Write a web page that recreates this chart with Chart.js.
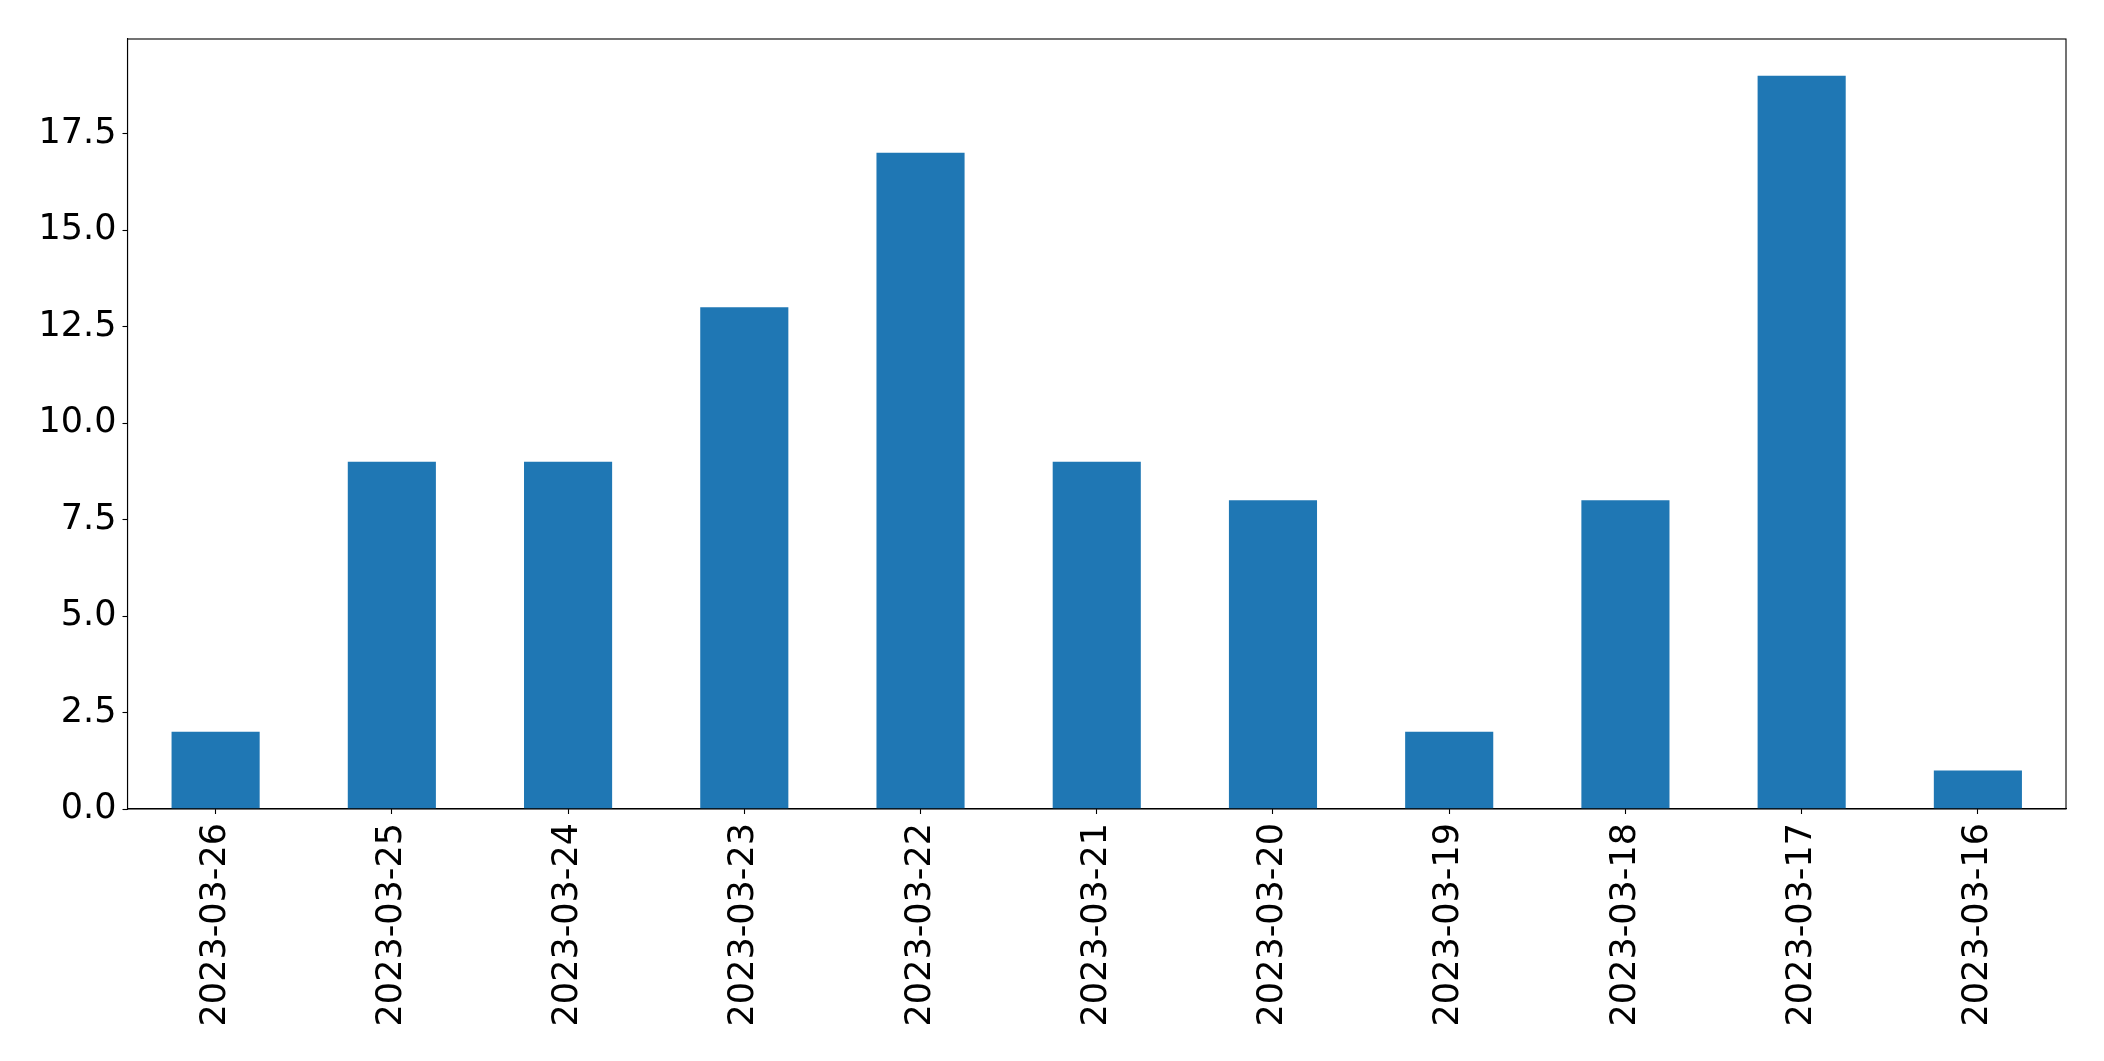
<!DOCTYPE html>
<html>
<head>
<meta charset="utf-8">
<script src="https://cdn.jsdelivr.net/npm/chart.js@4"></script>
<style>
  html, body { margin: 0; padding: 0; background: #fff; }
  canvas { display: block; }
</style>
</head>
<body>
<canvas id="grafico" width="2104" height="1061"></canvas>
<script>
  // dados
  const datas = [
    "2023-03-26", "2023-03-25", "2023-03-24", "2023-03-23", "2023-03-22",
    "2023-03-21", "2023-03-20", "2023-03-19", "2023-03-18", "2023-03-17",
    "2023-03-16",
  ];
  const contagens = [2, 9, 9, 13, 17, 9, 8, 2, 8, 19, 1];
  const ticksY = [0, 2.5, 5, 7.5, 10, 12.5, 15, 17.5];
  const maxY = 19.95;

  const fonte = { family: "'DejaVu Sans'", size: 35 };

  // moldura completa em volta da área do gráfico
  const moldura = {
    id: "moldura",
    afterDraw(chart) {
      const a = chart.chartArea;
      const c = chart.ctx;
      c.save();
      c.strokeStyle = "#000";
      c.lineWidth = 1.1;
      c.strokeRect(a.left, a.top, a.right - a.left, a.bottom - a.top);
      c.restore();
    },
  };

  const ctx = document.getElementById("grafico");

  var grafico = new Chart(ctx, {
    type: "bar",
    data: {
      labels: datas,
      datasets: [
        {
          data: contagens,
          backgroundColor: "#1f77b4",
          barPercentage: 0.5,
          categoryPercentage: 1.0,
        },
      ],
    },
    options: {
      responsive: false,
      animation: false,
      layout: {
        padding: { left: 0, top: 39, right: 38, bottom: 0 },
      },
      plugins: {
        legend: { display: false },
        tooltip: { enabled: false },
      },
      scales: {
        x: {
          offset: true,
          grid: {
            display: true,
            offset: false,
            drawOnChartArea: false,
            drawTicks: true,
            tickLength: 5,
            tickColor: "#000",
            tickWidth: 1.1,
          },
          border: { color: "#000", width: 1.1 },
          ticks: {
            color: "#000",
            font: fonte,
            minRotation: 90,
            maxRotation: 90,
            padding: 9,
            autoSkip: false,
          },
          afterFit(scale) {
            scale.height = 252;
          },
        },
        y: {
          min: 0,
          max: maxY,
          grid: {
            display: true,
            drawOnChartArea: false,
            drawTicks: true,
            tickLength: 5,
            tickColor: "#000",
            tickWidth: 1.1,
          },
          border: { color: "#000", width: 1.1 },
          ticks: {
            color: "#000",
            font: fonte,
            padding: 6,
            callback: (v) => Number(v).toFixed(1),
          },
          afterBuildTicks(scale) {
            scale.ticks = ticksY.map((v) => ({ value: v }));
          },
          afterFit(scale) {
            scale.width = 127.5;
          },
        },
      },
    },
    plugins: [moldura],
  });
</script>
</body>
</html>
